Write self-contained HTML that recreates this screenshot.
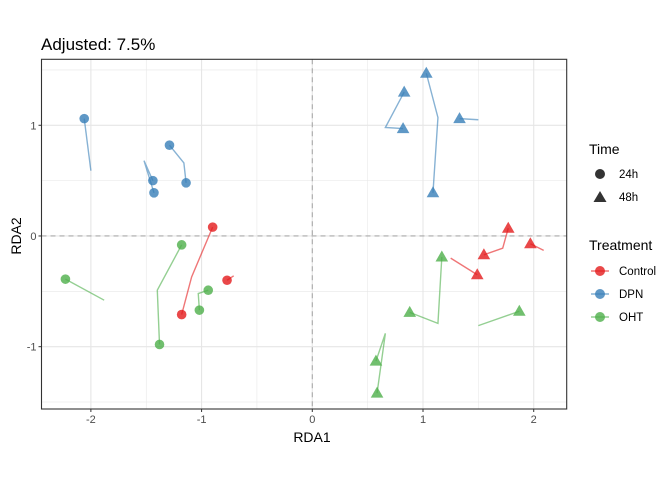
<!DOCTYPE html>
<html><head><meta charset="utf-8">
<style>
html,body{margin:0;padding:0;background:#fff;}
svg{display:block;font-family:"Liberation Sans",Arial,sans-serif;}
</style></head>
<body>
<svg id="chart" width="672" height="480" viewBox="0 0 672 480" xmlns="http://www.w3.org/2000/svg">
<rect width="672" height="480" fill="#fff"/>
<text x="41" y="50" font-size="17" fill="#000">Adjusted: 7.5%</text>
<g id="grid"></g>
<g id="lines"></g>
<g id="points"></g>
<rect x="41.5" y="59.3" width="525.2" height="349.7" fill="none" stroke="#333" stroke-width="1.1"/>
<g id="axes"></g>
<text x="312" y="442" font-size="14" text-anchor="middle" fill="#000">RDA1</text>
<text x="0" y="0" font-size="14" text-anchor="middle" fill="#000" transform="translate(21,236) rotate(-90)">RDA2</text>
<g>
<text x="589" y="154" font-size="14">Time</text>
<circle cx="600" cy="174" r="5" fill="#333"/>
<text x="619" y="178" font-size="11.5" fill="#000">24h</text>
<polygon points="600,191 606.5,202 593.5,202" fill="#333"/>
<text x="619" y="201" font-size="11.5" fill="#000">48h</text>
</g>
<g id="legend-treat">
<text x="589" y="250" font-size="14">Treatment</text>
</g>
</svg>
<script>
const categories = ["Control","DPN","OHT"];
const colors = {Control:"#E41A1C", DPN:"#377EB8", OHT:"#4DAF4A"};
const xTicks = [-2,-1,0,1,2];
const yTicks = [-1,0,1];
// points: [treatment, time, x, y]
const pointTreat = ["DPN","DPN","DPN","DPN","DPN","Control","Control","Control","OHT","OHT","OHT","OHT","OHT",
 "DPN","DPN","DPN","DPN","DPN","Control","Control","Control","Control","OHT","OHT","OHT","OHT","OHT"];
const pointTime = ["24h","24h","24h","24h","24h","24h","24h","24h","24h","24h","24h","24h","24h",
 "48h","48h","48h","48h","48h","48h","48h","48h","48h","48h","48h","48h","48h","48h"];
const pointX = [-2.06,-1.29,-1.44,-1.43,-1.14,-0.90,-0.77,-1.18,-2.23,-1.18,-0.94,-1.02,-1.38,
 1.03,0.83,0.82,1.33,1.09,1.77,1.97,1.55,1.49,1.17,0.88,1.87,0.575,0.585];
const pointY = [1.06,0.82,0.50,0.39,0.48,0.08,-0.40,-0.71,-0.39,-0.08,-0.49,-0.67,-0.98,
 1.47,1.30,0.97,1.06,0.39,0.07,-0.07,-0.17,-0.35,-0.19,-0.69,-0.68,-1.13,-1.42];
// trajectory polylines
const lineTreat = ["DPN","DPN","DPN","Control","Control","OHT","OHT","OHT",
 "DPN","DPN","DPN","Control","Control","Control","OHT","OHT","OHT"];
const lineXs = [[-2.06,-2.00],[-1.29,-1.16,-1.14],[-1.44,-1.52,-1.43],[-0.90,-1.09,-1.18],[-0.77,-0.71],
 [-2.23,-1.88],[-1.18,-1.40,-1.38],[-0.94,-1.03,-1.02],
 [1.03,1.135,1.09],[0.83,0.66,0.82],[1.33,1.50],[1.77,1.72,1.55],[1.97,2.09],[1.49,1.25],
 [1.17,1.135,0.88],[1.87,1.50],[0.575,0.66,0.585]];
const lineYs = [[1.06,0.59],[0.82,0.66,0.48],[0.50,0.68,0.39],[0.08,-0.37,-0.71],[-0.40,-0.36],
 [-0.39,-0.58],[-0.08,-0.49,-0.98],[-0.49,-0.52,-0.67],
 [1.47,1.07,0.39],[1.30,0.98,0.97],[1.06,1.05],[0.07,-0.11,-0.17],[-0.07,-0.13],[-0.35,-0.20],
 [-0.19,-0.79,-0.69],[-0.68,-0.81],[-1.13,-0.88,-1.42]];

const NS="http://www.w3.org/2000/svg";
const L=41.5,R=566.7,T=59.3,B=409;
const xMin=-2.446,xMax=2.298,yMin=-1.563,yMax=1.596;
const sx=v=>L+(v-xMin)/(xMax-xMin)*(R-L);
const sy=v=>B-(v-yMin)/(yMax-yMin)*(B-T);
function mk(tag,attrs,parent){const e=document.createElementNS(NS,tag);for(const k in attrs)e.setAttribute(k,attrs[k]);parent.appendChild(e);return e;}
const grid=document.getElementById('grid'),axes=document.getElementById('axes');
for(let v=-2.5;v<=2.5;v+=0.5){
  const major=Number.isInteger(v);
  if(v>=xMin&&v<=xMax){const l=mk('line',{x1:sx(v),x2:sx(v),y1:T,y2:B,stroke:'#e6e6e6','stroke-width':major?1.1:0.55},grid);
    
    }
  if(v>=yMin&&v<=yMax){const l=mk('line',{x1:L,x2:R,y1:sy(v),y2:sy(v),stroke:'#e6e6e6','stroke-width':major?1.1:0.55},grid);
    
    }
}
const z1=mk('line',{x1:sx(0),x2:sx(0),y1:T,y2:B,stroke:'#aaa','stroke-dasharray':'5,4','stroke-width':1.1},grid);


const z2=mk('line',{x1:L,x2:R,y1:sy(0),y2:sy(0),stroke:'#aaa','stroke-dasharray':'5,4','stroke-width':1.1},grid);


xTicks.forEach(v=>{
  const t=mk('line',{x1:sx(v),x2:sx(v),y1:B,y2:B+3,stroke:'#333'},axes);
  
  
  const tx=mk('text',{x:sx(v),y:B+14,'font-size':11,'text-anchor':'middle',fill:'#4d4d4d'},axes);
  tx.textContent=v;
  
  
});
yTicks.forEach(v=>{
  const t=mk('line',{x1:L-3,x2:L,y1:sy(v),y2:sy(v),stroke:'#333'},axes);
  
  
  const tx=mk('text',{x:L-5,y:sy(v)+4,'font-size':11,'text-anchor':'end',fill:'#4d4d4d'},axes);
  tx.textContent=v;
  
  
});
const lg=document.getElementById('lines');
lineTreat.forEach((tr,i)=>{
  const pts=lineXs[i].map((x,j)=>sx(x)+','+sy(lineYs[i][j])).join(' ');
  const p=mk('polyline',{points:pts,fill:'none',stroke:colors[tr],'stroke-opacity':0.6,'stroke-width':1.4},lg);
  
  
});
const pg=document.getElementById('points');
pointTreat.forEach((tr,i)=>{
  const x=sx(pointX[i]),y=sy(pointY[i]);let e;
  if(pointTime[i]==='24h'){e=mk('circle',{cx:x,cy:y,r:4.8,fill:colors[tr],'fill-opacity':0.8},pg);}
  else{e=mk('polygon',{points:`${x},${y-6.5} ${x+6.3},${y+4.5} ${x-6.3},${y+4.5}`,fill:colors[tr],'fill-opacity':0.8},pg);}
  
  
});
const leg=document.getElementById('legend-treat');
categories.forEach((c,i)=>{
  const y=271+i*23;
  const l=mk('line',{x1:591,x2:609,y1:y,y2:y,stroke:colors[c],'stroke-opacity':0.6,'stroke-width':1.4},leg);
  
  
  const ci=mk('circle',{cx:600,cy:y,r:5,fill:colors[c],'fill-opacity':0.8},leg);
  
  
  const t=mk('text',{x:619,y:y+4,'font-size':11.5,fill:'#000'},leg);
  t.textContent=c;
  
  
});
</script>
</body></html>
